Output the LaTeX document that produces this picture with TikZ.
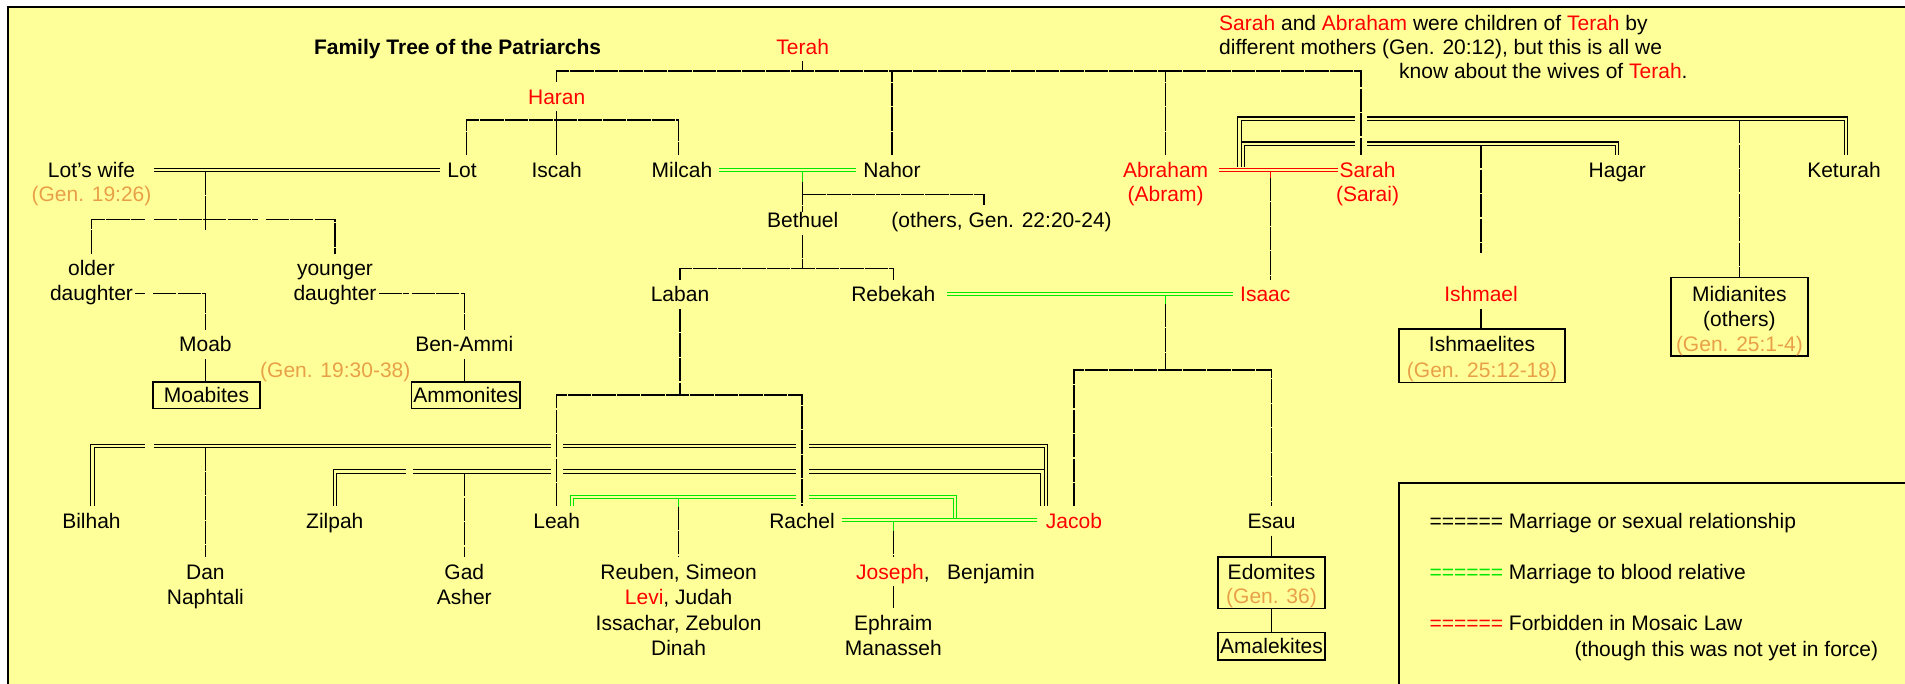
\documentclass[tikz,border=0pt]{standalone}
\usepackage{fontspec}
\setmainfont{Liberation Sans}
\usetikzlibrary{calc}
\definecolor{paper}{RGB}{255,255,153}
\definecolor{gencol}{RGB}{232,160,72}
\definecolor{kin}{RGB}{0,230,0}
\newcommand\fsz{\fontsize{21}{25.5}\selectfont}

\begin{document}
\begin{tikzpicture}[x=1pt,y=-1pt,
  lbl/.style={font=\fsz, text height=15pt, text depth=0pt, inner xsep=2pt, inner ysep=7pt},
  rd/.style={lbl, text=red},
  gen/.style={lbl, text=gencol},
  note/.style={lbl, anchor=west},
  tree/.style={draw=black, line width=1.4pt, dash pattern=on 23.3pt off 1.2pt},
  wed/.style={draw=black, double=paper, double distance=2.1pt, line width=1.1pt},
  wedkin/.style={wed, draw=kin},
  wedsin/.style={wed, draw=red},
  stubkin/.style={draw=kin, line width=1.4pt},
  stubsin/.style={draw=red, line width=1.4pt},
  tribebox/.style={draw=black, line width=1.6pt, font=\fsz, text height=15pt, text depth=0pt, inner sep=0pt},
  gap/.style={fill=paper}
]
\useasboundingbox (0,0) rectangle (1905,684);
% page, sheet and frame
\fill[white] (0,0) rectangle (1905,684);
\fill[paper] (8,7) rectangle (1905,684);
\draw[line width=2.4pt] (8,684) -- (8,7) -- (1905,7);

% ---------- heading and note ----------
\node[lbl, font=\fsz\bfseries] (title) at (457.6,46.7) {Family Tree of the Patriarchs};
\node[rd] (terah) at (802.7,46.7) {Terah};
\node[note] (note1) at (1217,22.7) {\textcolor{red}{Sarah} and \textcolor{red}{Abraham} were children of \textcolor{red}{Terah} by};
\node[note] (note2) at (1217,46.7) {different mothers (Gen. 20:12), but this is all we};
\node[note] (note3) at (1397,70.7) {know about the wives of \textcolor{red}{Terah}.};

% ---------- people ----------
\node[rd] (haran) at (556.7,96.7) {Haran};
\node[lbl] (lotswife) at (91.5,170) {Lot's wife};
\node[gen] (lotswiferef) at (91.5,194.3) {(Gen. 19:26)};
\node[lbl] (lot) at (462,170) {Lot};
\node[lbl] (iscah) at (556.7,170) {Iscah};
\node[lbl] (milcah) at (682,170) {Milcah};
\node[lbl] (nahor) at (892,170) {Nahor};
\node[rd] (abraham) at (1165.6,170) {Abraham};
\node[rd] (abram) at (1165.6,194.3) {(Abram)};
\node[rd] (sarah) at (1367.5,170) {Sarah};
\node[rd] (sarai) at (1367.5,194.3) {(Sarai)};
\node[lbl] (hagar) at (1617.3,170) {Hagar};
\node[lbl] (keturah) at (1844,170) {Keturah};
\node[lbl] (bethuel) at (802.7,220) {Bethuel};
\node[lbl] (others) at (1001.6,220) {(others, Gen. 22:20-24)};
\node[lbl] (olderA) at (91.5,268.3) {older};
\node[lbl] (daughterA) at (91.5,293.3) {daughter};
\node[lbl] (youngerB) at (335,268.3) {younger};
\node[lbl] (daughterB) at (335,293.3) {daughter};
\node[lbl] (laban) at (680,294.3) {Laban};
\node[lbl] (rebekah) at (893.3,294.3) {Rebekah};
\node[rd] (isaac) at (1265.3,294.3) {Isaac};
\node[rd] (ishmael) at (1481,294.3) {Ishmael};
\node[lbl] (moab) at (205.4,344.3) {Moab};
\node[lbl] (benammi) at (464.3,344.3) {Ben-Ammi};
\node[gen] (lotref) at (335.3,370) {(Gen. 19:30-38)};
\node[tribebox, minimum width=107pt, minimum height=26.6pt] (moabites) at (206.5,395) {Moabites};
\node[tribebox, minimum width=108.4pt, minimum height=26.6pt] (ammonites) at (465.8,395) {Ammonites};
\node[tribebox, minimum width=166pt, minimum height=53pt] (ishbox) at (1482,355.8) {};
\node[lbl] (ishmaelites) at (1482,344.3) {Ishmaelites};
\node[gen] (ishref) at (1482,370) {(Gen. 25:12-18)};
\node[tribebox, minimum width=137.2pt, minimum height=78.3pt] (midbox) at (1739.4,316.85) {};
\node[lbl] (midianites) at (1739.4,294.3) {Midianites};
\node[lbl] (midothers) at (1739.4,318.8) {(others)};
\node[gen] (midref) at (1739.4,344.3) {(Gen. 25:1-4)};
\node[lbl] (bilhah) at (91.5,521) {Bilhah};
\node[lbl] (zilpah) at (334.8,521) {Zilpah};
\node[lbl] (leah) at (556.7,521) {Leah};
\node[lbl] (rachel) at (802,521) {Rachel};
\node[rd] (jacob) at (1074,521) {Jacob};
\node[lbl] (esau) at (1271.5,521) {Esau};
\node[lbl] (dan) at (205.4,571.7) {Dan};
\node[lbl] (naphtali) at (205.4,597.2) {Naphtali};
\node[lbl] (gad) at (464.3,571.7) {Gad};
\node[lbl] (asher) at (464.3,597.2) {Asher};
\node[lbl] (leahsons1) at (678.6,571.7) {Reuben, Simeon};
\node[lbl] (leahsons2) at (678.6,597.2) {\textcolor{red}{Levi}, Judah};
\node[lbl] (leahsons3) at (678.6,622.7) {Issachar, Zebulon};
\node[lbl] (leahsons4) at (678.6,648.2) {Dinah};
\node[rd, anchor=west] (joseph) at (854,571.7) {Joseph\textcolor{black}{,}};
\node[lbl, anchor=west] (benjamin) at (945,571.7) {Benjamin};
\node[lbl] (ephraim) at (893.3,622.7) {Ephraim};
\node[lbl] (manasseh) at (893.3,648.2) {Manasseh};
\node[tribebox, minimum width=107pt, minimum height=51.6pt] (edombox) at (1271.5,582.5) {};
\node[lbl] (edomites) at (1271.5,572.3) {Edomites};
\node[gen] (edomref) at (1271.5,595.7) {(Gen. 36)};
\node[tribebox, minimum width=107pt, minimum height=27.3pt] (amalekites) at (1271.5,646.3) {Amalekites};

% ---------- legend ----------
\draw[line width=1.6pt] (1399,684) -- (1399,482.7) -- (1905,482.7);
\node[note, inner xsep=0pt] (leg1) at (1429.3,521) {====== Marriage or sexual relationship};
\node[note, inner xsep=0pt] (leg2) at (1429.3,572.3) {\textcolor{kin}{======} Marriage to blood relative};
\node[note, inner xsep=0pt] (leg3) at (1429.3,622.7) {\textcolor{red}{======} Forbidden in Mosaic Law};
\node[note, inner xsep=0pt] (leg4) at (1574.5,649) {(though this was not yet in force)};

% ---------- bus levels ----------
\coordinate (busT) at (0,71);
\coordinate (busH) at (0,120);
\coordinate (busK) at (0,118.6);
\coordinate (busG) at (0,143.6);
\coordinate (busB) at (0,194.3);
\coordinate (busL) at (0,219.3);
\coordinate (busLa) at (0,268.3);
\coordinate (busI) at (0,370);
\coordinate (busR) at (0,395);
\coordinate (busJ1) at (0,445.8);
\coordinate (busJ2) at (0,471.5);
\coordinate (busLJ) at (0,497);

% ---------- Abraham's other wives ----------
\draw[wed] ($(abraham)+(73.9,-3)$) -- ($(abraham |- busK)+(73.9,0)$) -| ([xshift=2pt]keturah.north);
\draw[wed] ($(abraham)+(77.4,-3)$) -- ($(abraham |- busG)+(77.4,0)$) -| (hagar.north);
\draw[tree] ($(ishmael.north |- busG)+(0,1.5)$) -- ([yshift=26.5pt]ishmael.north);
\draw[tree] ($(midbox.north |- busK)+(0,1.5)$) -- (midbox.north);
\draw[tree] (ishmael.south) -- (ishmael.south |- ishbox.north);
% Sarah's line passes through the two marriage lines
\fill[gap] (1355,114.5) rectangle (1366.7,148.5);

% ---------- Terah's children ----------
\draw[tree] (haran.north) -- (haran.north |- busT) -| ([xshift=-6.5pt]sarah.north);
\draw[tree] (terah.south) -- (terah.south |- busT);
\draw[tree] (nahor.north) -- (nahor.north |- busT);
\draw[tree] (abraham.north) -- (abraham.north |- busT);

% ---------- Haran's children ----------
\draw[tree] (haran.south) -- ++(0,20.5);
\draw[tree] ([xshift=4.5pt]lot.north) -- ([xshift=4.5pt]lot.north |- busH) -| ([xshift=-3.4pt]milcah.north);
\draw[tree] (iscah.north) -- (iscah.north |- busH);

% ---------- Lot ----------
\draw[wed] ($(lotswife)+(62.5,0)$) -- ($(lot)+(-22.3,0)$);
\coordinate (lotw) at ($(lotswife)+(113.9,0)$);
\draw[tree] ($(lotw)+(0,1.5)$) -- ++(0,58.5);
\draw[tree] (olderA.north) -- (olderA.north |- busL) -- ++(53.5,0);
\draw[tree] ($(olderA.north |- busL)+(62.5,0)$) -- ++(104,0);
\draw[tree] ($(youngerB.north |- busL)+(-69.4,0)$) -- (youngerB.north |- busL) -- (youngerB.north);
\draw[tree] (daughterA.east) -- ++(10,0);
\draw[tree] ($(moab.north |- daughterA)+(-52.4,0)$) -| (moab.north);
\draw[tree] (daughterB.east) -- ++(30,0);
\draw[tree] ($(benammi.north |- daughterB)+(-52.7,0)$) -| (benammi.north);
\draw[tree] (moab.south) -- (moab.south |- moabites.north);
\draw[tree] (benammi.south) -- (benammi.south |- ammonites.north);

% ---------- Nahor and Milcah ----------
\draw[wedkin] ($(milcah)+(37,0)$) -- ($(nahor)+(-36,0)$);
\coordinate (nahw) at ($(milcah)+(120.7,0)$);
\draw[stubkin] ($(nahw)+(0,1.5)$) -- ++(0,10.2);
\draw[tree] ($(nahw)+(0,11.7)$) -- ([yshift=-7pt]bethuel.north);
\draw[tree] (nahw |- busB) -| ([xshift=-17.6pt]others.north);
\draw[tree] (bethuel.south) -- (bethuel.south |- busLa);
\draw[tree] (laban.north) -- (laban.north |- busLa) -| (rebekah.north);

% ---------- Isaac and Rebekah ----------
\draw[wedkin] ($(rebekah)+(53.7,0)$) -- ($(isaac)+(-32.7,0)$);
\coordinate (isw) at ($(rebekah)+(272.3,0)$);
\draw[stubkin] ($(isw)+(0,1.5)$) -- ++(0,8.2);
\draw[tree] ($(isw)+(0,9.7)$) -- (isw |- busI);
\draw[tree] (jacob.north) -- (jacob.north |- busI) -| (esau.north);
\draw[tree] (esau.south) -- (esau.south |- edombox.north);
\draw[tree] (edombox.south) -- (amalekites.north);

% ---------- Abraham and Sarah ----------
\draw[wedsin] ($(abraham)+(53.4,0)$) -- ($(sarah)+(-29.5,0)$);
\coordinate (abw) at ($(abraham)+(104.9,0)$);
\draw[stubsin] ($(abw)+(0,1.5)$) -- ++(0,6.5);
\draw[tree] ($(abw)+(0,8)$) -- ([xshift=5.2pt]isaac.north);

% ---------- Jacob's wives ----------
\draw[wed] ([xshift=1pt]bilhah.north) -- ($(bilhah.north |- busJ1)+(1,0)$) -- ($(jacob.north |- busJ1)+(-28,0)$) -- ([xshift=-28pt]jacob.north);
\draw[wed] (zilpah.north) -- (zilpah.north |- busJ2) -- ($(jacob.north |- busJ2)+(-31.5,0)$) -- ([xshift=-31.5pt]jacob.north);
\draw[wedkin] ($(leah.north)+(15,0)$) |- ($(rachel |- busLJ)+(153,0)$) |- ($(jacob)+(-37.3,-1)$);
\draw[wedkin] ($(rachel)+(40,-1)$) -- ($(jacob)+(-37.3,-1)$);
% breaks in the marriage lines
\fill[gap] (145,441) rectangle (154,451);
\fill[gap] (406,466.5) rectangle (412.5,476.5);
\fill[gap] (551,438) rectangle (562.5,478);
\fill[gap] (796.4,438) rectangle (809,503);
\draw[tree] ($(dan.north |- busJ1)+(0,1.5)$) -- (dan.north);
\draw[tree] ($(gad.north |- busJ2)+(0,1.5)$) -- (gad.north);
\coordinate (lsw) at (leahsons1 |- busLJ);
\draw[stubkin] ($(lsw)+(0,1.5)$) -- ++(0,8);
\draw[tree] ($(lsw)+(0,9.5)$) -- (leahsons1.north);
\coordinate (rjw) at ($(ephraim |- rachel)+(0,-1)$);
\draw[stubkin] ($(rjw)+(0,1.5)$) -- ++(0,9);
\draw[tree] ($(rjw)+(0,10.5)$) -- (ephraim.north |- joseph.north);
\draw[tree] (ephraim.north |- joseph.south) -- (ephraim.north);

% ---------- Laban's daughters ----------
\draw[tree] (laban.south) -- (laban.south |- busR);
\draw[tree] (leah.north) -- (leah.north |- busR) -| (rachel.north);
\end{tikzpicture}
\end{document}
